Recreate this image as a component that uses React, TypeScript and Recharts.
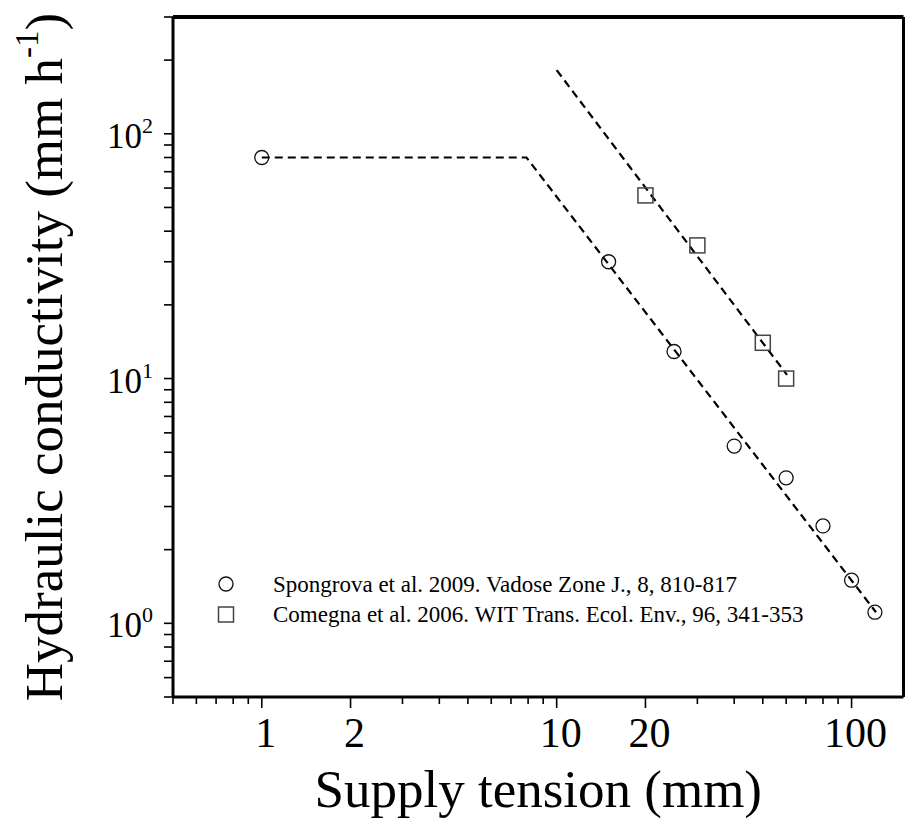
import React from 'react';
import { ScatterChart, Scatter, XAxis, YAxis, ReferenceLine, Legend } from 'recharts';

const FONT = '"Liberation Serif", "Times New Roman", Times, serif';

// ---- data ----
const spongrovaName = 'Spongrova et al. 2009. Vadose Zone J., 8, 810-817';
const comegnaName = 'Comegna et al. 2006. WIT Trans. Ecol. Env., 96, 341-353';

const spongrovaTension = [1, 15, 25, 40, 60, 80, 100, 120];
const spongrovaK = [80, 30, 12.9, 5.3, 3.93, 2.5, 1.5, 1.11];

const comegnaTension = [20, 30, 50, 60];
const comegnaK = [56, 35, 14, 10];

const spongrovaFitTension = [1, 7.9, 121];
const spongrovaFitK = [80, 80, 1.11];

const comegnaFitTension = [10, 60.4];
const comegnaFitK = [182, 10.35];

const xTicks = [0.5, 0.6, 0.7, 0.8, 0.9, 1, 2, 3, 4, 5, 6, 7, 8, 9, 10, 20, 30, 40, 50, 60, 70, 80, 90, 100];
const xTickLabels: Record<string, string> = { '1': '1', '2': '2', '10': '10', '20': '20', '100': '100' };

const yTicks = [0.5, 0.6, 0.7, 0.8, 0.9, 1, 2, 3, 4, 5, 6, 7, 8, 9, 10, 20, 30, 40, 50, 60, 70, 80, 90, 100, 200, 300];
const yTickExponents: Record<string, string> = { '1': '0', '10': '1', '100': '2' };

const xDomain = [0.5, 150];
const yDomain = [0.5, 300];

const toPoints = (xs: number[], ys: number[]) => xs.map((x, i) => ({ x, y: ys[i] }));

const spongrovaData = toPoints(spongrovaTension, spongrovaK);
const comegnaData = toPoints(comegnaTension, comegnaK);
const spongrovaFit = toPoints(spongrovaFitTension, spongrovaFitK);
const comegnaFit = toPoints(comegnaFitTension, comegnaFitK);

// ---- layout ----
const W = 905;
const H = 828;
const PLOT_LEFT = 173;
const PLOT_TOP = 17;
const PLOT_RIGHT = 903.5;
const PLOT_BOTTOM = 697;

const XTick = (props: any) => {
  const { x, y, payload } = props;
  const label = xTickLabels[String(payload.value)];
  const major = label !== undefined;
  return (
    <g>
      <line x1={x} x2={x} y1={y} y2={y + (major ? 11 : 7)} stroke="#000" strokeWidth={1.6} />
      {major && (
        <text x={x + 4} y={y + 50} textAnchor="middle" fontFamily={FONT} fontSize={42} fill="#000">
          {label}
        </text>
      )}
    </g>
  );
};

const YTick = (props: any) => {
  const { x, y, payload } = props;
  const exp = yTickExponents[String(payload.value)];
  return (
    <g>
      <line x1={x - 9} x2={x} y1={y} y2={y} stroke="#000" strokeWidth={1.6} />
      {exp !== undefined && (
        <text x={x - 20} y={y + 14} textAnchor="end" fontFamily={FONT} fontSize={35} fill="#000">
          10
          <tspan fontSize={22} dy={-15}>
            {exp}
          </tspan>
        </text>
      )}
    </g>
  );
};

const CircleMarker = (p: any) => (
  <circle cx={p.cx} cy={p.cy} r={7} fill="none" stroke="#111" strokeWidth={1.3} />
);
const SquareMarker = (p: any) => (
  <rect x={p.cx - 7.5} y={p.cy - 7.5} width={15} height={15} fill="none" stroke="#444" strokeWidth={1.5} />
);
const NoMarker = () => <g />;

const LegendBox = () => (
  <svg width={640} height={64} style={{ display: 'block' }}>
    <circle cx={21} cy={18} r={7} fill="none" stroke="#111" strokeWidth={1.3} />
    <text x={68} y={26} fontFamily={FONT} fontSize={23} fill="#000">
      {spongrovaName}
    </text>
    <rect x={13.5} y={41} width={15} height={15} fill="none" stroke="#444" strokeWidth={1.5} />
    <text x={68} y={56} fontFamily={FONT} fontSize={23} fill="#000">
      {comegnaName}
    </text>
  </svg>
);

const XTitle = () => (
  <text
    x={(PLOT_LEFT + PLOT_RIGHT) / 2}
    y={807}
    textAnchor="middle"
    fontFamily={FONT}
    fontSize={53}
    fill="#000"
  >
    Supply tension (mm)
  </text>
);

const YTitle = () => (
  <text
    transform={`translate(62, ${(PLOT_TOP + PLOT_BOTTOM) / 2}) rotate(-90)`}
    textAnchor="middle"
    fontFamily={FONT}
    fontSize={53}
    fill="#000"
  >
    Hydraulic conductivity (mm h
    <tspan dy={-24} fontSize={33}>
      -1
    </tspan>
    <tspan dy={24}>)</tspan>
  </text>
);

const dashLine = { stroke: '#000', strokeWidth: 2.2, strokeDasharray: '8 5' };

export default function App() {
  return (
    <div style={{ position: 'absolute', left: 0, top: 0, width: W, height: H, background: '#fff' }}>
      <style>{'html,body{margin:0;padding:0;overflow:hidden;background:#fff}'}</style>
      <ScatterChart
        width={W}
        height={H}
        margin={{ top: PLOT_TOP, right: W - PLOT_RIGHT, bottom: 0, left: 0 }}
      >
        <XAxis
          dataKey="x"
          type="number"
          scale="log"
          domain={xDomain}
          allowDataOverflow
          ticks={xTicks}
          interval={0}
          tick={<XTick />}
          tickLine={false}
          tickSize={0}
          tickMargin={0}
          axisLine={{ stroke: '#000', strokeWidth: 3 }}
          height={H - PLOT_BOTTOM}
          label={{ content: () => <XTitle /> }}
        />
        <YAxis
          dataKey="y"
          type="number"
          scale="log"
          domain={yDomain}
          allowDataOverflow
          ticks={yTicks}
          interval={0}
          tick={<YTick />}
          tickLine={false}
          tickSize={0}
          tickMargin={0}
          axisLine={{ stroke: '#000', strokeWidth: 3 }}
          width={PLOT_LEFT}
          label={{ content: () => <YTitle /> }}
        />
        <ReferenceLine y={yDomain[1]} stroke="#000" strokeWidth={4} />
        <ReferenceLine x={xDomain[1]} stroke="#000" strokeWidth={3} />
        <Scatter
          name="fit1"
          data={spongrovaFit}
          line={dashLine}
          lineType="joint"
          shape={NoMarker}
          legendType="none"
          isAnimationActive={false}
        />
        <Scatter
          name="fit2"
          data={comegnaFit}
          line={dashLine}
          lineType="joint"
          shape={NoMarker}
          legendType="none"
          isAnimationActive={false}
        />
        <Scatter name={spongrovaName} data={spongrovaData} shape={CircleMarker} isAnimationActive={false} />
        <Scatter name={comegnaName} data={comegnaData} shape={SquareMarker} isAnimationActive={false} />
        <Legend
          layout="horizontal"
          verticalAlign="middle"
          align="center"
          wrapperStyle={{ position: 'absolute', left: 205, top: 566, width: 640, height: 64 }}
          content={() => <LegendBox />}
        />
      </ScatterChart>
    </div>
  );
}
